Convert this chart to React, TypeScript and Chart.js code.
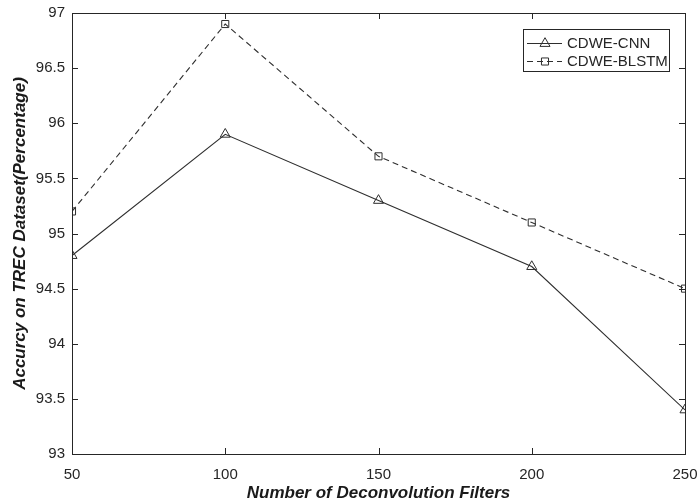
import React, { useEffect, useRef } from "react";
import { Chart, registerables } from "chart.js";

Chart.register(...registerables);

const filters = [50, 100, 150, 200, 250];
const cnnValues = [94.8, 95.9, 95.3, 94.7, 93.4];
const blstmValues = [95.2, 96.9, 95.7, 95.1, 94.5];
const seriesNames = ["CDWE-CNN", "CDWE-BLSTM"];
const xTitle = "Number of Deconvolution Filters";
const yTitle = "Accurcy on TREC Dataset(Percentage)";

const AXIS = "#262626";
const LINE = "#2e2e2e";
const FONT = "'Liberation Sans', Arial, sans-serif";

function drawMarker(ctx: CanvasRenderingContext2D, style: string, x: number, y: number, r: number) {
  ctx.beginPath();
  if (style === "triangle") {
    for (let i = 0; i < 3; i++) {
      const a = (i * 2 * Math.PI) / 3;
      const px = x + Math.sin(a) * r;
      const py = y - Math.cos(a) * r;
      if (i === 0) ctx.moveTo(px, py);
      else ctx.lineTo(px, py);
    }
    ctx.closePath();
  } else {
    const s = Math.SQRT1_2 * r;
    ctx.rect(x - s, y - s, 2 * s, 2 * s);
  }
  ctx.stroke();
}

const framePlugin = {
  id: "frame",
  afterDraw(chart: any) {
    const { ctx, chartArea: a, scales } = chart;
    ctx.save();
    ctx.strokeStyle = AXIS;
    ctx.lineWidth = 1;
    ctx.setLineDash([]);
    ctx.strokeRect(Math.round(a.left) + 0.5, Math.round(a.top) + 0.5, Math.round(a.right - a.left), Math.round(a.bottom - a.top));
    const tl = 6;
    ctx.beginPath();
    scales.y.ticks.forEach((t: any) => {
      const py = Math.round(scales.y.getPixelForValue(t.value)) + 0.5;
      ctx.moveTo(a.left, py);
      ctx.lineTo(a.left + tl, py);
      ctx.moveTo(a.right, py);
      ctx.lineTo(a.right - tl, py);
    });
    scales.x.ticks.forEach((t: any) => {
      const px = Math.round(scales.x.getPixelForValue(t.value)) + 0.5;
      ctx.moveTo(px, a.bottom);
      ctx.lineTo(px, a.bottom - tl);
      ctx.moveTo(px, a.top);
      ctx.lineTo(px, a.top + tl);
    });
    ctx.stroke();

    // legend
    const lx = 523.5, ly = 29.5, lw = 146, lh = 42;
    ctx.fillStyle = "#ffffff";
    ctx.fillRect(lx, ly, lw, lh);
    ctx.strokeStyle = AXIS;
    ctx.strokeRect(lx, ly, lw, lh);
    ctx.font = `15px ${FONT}`;
    ctx.textBaseline = "middle";
    ctx.textAlign = "left";
    chart.data.datasets.forEach((ds: any, i: number) => {
      const y = Math.round(43 + i * 18) + 0.5;
      ctx.strokeStyle = ds.borderColor;
      ctx.lineWidth = 1;
      ctx.setLineDash(ds.borderDash || []);
      ctx.beginPath();
      ctx.moveTo(527, y);
      ctx.lineTo(562, y);
      ctx.stroke();
      ctx.setLineDash([]);
      ctx.fillStyle = "#ffffff";
      drawMarker(ctx, ds.pointStyle, 545, y, ds.pointRadius);
      ctx.fillStyle = AXIS;
      ctx.fillText(ds.label, 567, y + 0.5);
    });
    ctx.restore();
  },
};

export default function App() {
  const ref = useRef<HTMLCanvasElement | null>(null);
  useEffect(() => {
    document.body.style.margin = "0";
    if (!ref.current) return;
    const chart = new Chart(ref.current, {
      type: "line",
      data: {
        labels: filters,
        datasets: [
          {
            label: seriesNames[0],
            data: filters.map((x, i) => ({ x, y: cnnValues[i] })),
            borderColor: LINE,
            borderWidth: 1.1,
            pointStyle: "triangle",
            pointRadius: 5.8,
            pointBorderColor: LINE,
            pointBackgroundColor: "rgba(0,0,0,0)",
            pointBorderWidth: 1,
            tension: 0,
          },
          {
            label: seriesNames[1],
            data: filters.map((x, i) => ({ x, y: blstmValues[i] })),
            borderColor: LINE,
            borderWidth: 1.1,
            borderDash: [6, 4],
            pointStyle: "rect",
            pointRadius: 5,
            pointBorderColor: LINE,
            pointBackgroundColor: "rgba(0,0,0,0)",
            pointBorderWidth: 1,
            tension: 0,
          },
        ],
      },
      options: {
        animation: false,
        responsive: true,
        maintainAspectRatio: false,
        layout: { padding: { top: 13, right: 12, left: 0, bottom: 0 } },
        plugins: { legend: { display: false }, tooltip: { enabled: false } },
        scales: {
          x: {
            type: "linear",
            min: 50,
            max: 250,
            ticks: { stepSize: 50, padding: 12, color: AXIS, font: { family: FONT, size: 15 }, maxRotation: 0 },
            grid: { display: false, drawTicks: false },
            border: { display: false },
            title: {
              display: true,
              text: xTitle,
              color: "#1a1a1a",
              font: { family: FONT, size: 17, weight: "bold", style: "italic" },
              padding: { top: 0, bottom: 0 },
            },
            afterFit: (s: any) => {
              s.height = 50;
              s.paddingRight = 0;
              s.paddingLeft = 0;
            },
          },
          y: {
            type: "linear",
            min: 93,
            max: 97,
            ticks: {
              stepSize: 0.5,
              padding: 7,
              color: AXIS,
              font: { family: FONT, size: 15 },
              callback: (v: any) => String(Number(v)),
            },
            grid: { display: false, drawTicks: false },
            border: { display: false },
            title: {
              display: true,
              text: yTitle,
              color: "#1a1a1a",
              font: { family: FONT, size: 17, weight: "bold", style: "italic" },
              padding: { top: 10, bottom: 0 },
            },
            afterFit: (s: any) => {
              s.width = 72;
              s.paddingTop = 0;
              s.paddingBottom = 0;
            },
          },
        },
      },
      plugins: [framePlugin],
    });
    return () => chart.destroy();
  }, []);
  return (
    <div style={{ position: "absolute", left: 0, top: 0, width: 697, height: 504, background: "#fff" }}>
      <canvas ref={ref} />
    </div>
  );
}
